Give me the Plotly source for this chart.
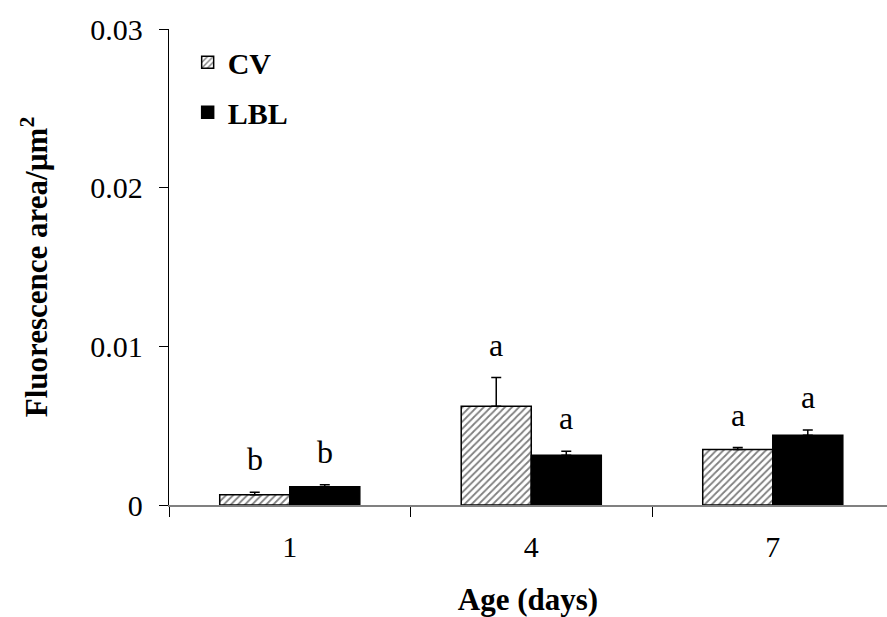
import plotly.graph_objects as go

# Fluorescence area per µm² by age, two groups (mean + SE)
days = ["1", "4", "7"]
cv_mean = [0.00065, 0.00623, 0.0035]
cv_se = [0.00015, 0.0018, 0.00012]
lbl_mean = [0.00115, 0.00314, 0.0044]
lbl_se = [0.00012, 0.00025, 0.00033]
cv_letters = ["b", "a", "a"]
lbl_letters = ["b", "a", "a"]

FONT = "Liberation Serif, Times New Roman, serif"

fig = go.Figure()

fig.add_trace(go.Bar(
    name="CV", x=days, y=cv_mean, legendgroup="cv",
    marker=dict(color="white", line=dict(color="black", width=1.5),
                pattern=dict(shape="/", fgcolor="black", bgcolor="white",
                             size=5, solidity=0.35)),
    error_y=dict(type="data", array=cv_se, arrayminus=[0] * len(cv_se),
                 symmetric=False, color="black", thickness=1.5, width=5),
))
fig.add_trace(go.Bar(
    name="LBL", x=days, y=lbl_mean, legendgroup="lbl",
    marker=dict(color="black", line=dict(color="black", width=1.5)),
    error_y=dict(type="data", array=lbl_se, arrayminus=[0] * len(lbl_se),
                 symmetric=False, color="black", thickness=1.5, width=5),
))

# significance letters above each bar (x given as category index)
for i, (m, s, t) in enumerate(zip(cv_mean, cv_se, cv_letters)):
    fig.add_annotation(x=i, y=m + s, text=t, showarrow=False, xshift=-35,
                       yanchor="bottom", yshift=13,
                       font=dict(family=FONT, size=32, color="black"))
for i, (m, s, t) in enumerate(zip(lbl_mean, lbl_se, lbl_letters)):
    fig.add_annotation(x=i, y=m + s, text=t, showarrow=False, xshift=35,
                       yanchor="bottom", yshift=13,
                       font=dict(family=FONT, size=32, color="black"))

fig.update_layout(
    width=887, height=617,
    margin=dict(l=169, r=0, t=29, b=112),
    paper_bgcolor="white", plot_bgcolor="white",
    barmode="group", bargap=0.42, bargroupgap=0,
    font=dict(family=FONT, size=30, color="black"),
    showlegend=True,
    legend=dict(x=0.026, y=0.985, xanchor="left", yanchor="top",
                bgcolor="rgba(0,0,0,0)", tracegroupgap=8,
                font=dict(family=FONT, size=30, color="black", weight="bold"),
                itemwidth=30),
    xaxis=dict(
        type="category", range=[-0.5, 2.473],
        showline=True, linecolor="#808080", linewidth=2,
        ticks="outside", tickson="boundaries", ticklen=10,
        tickcolor="black", tickwidth=1.2, ticklabelstandoff=14,
        showgrid=False, zeroline=False,
        tickfont=dict(family=FONT, size=30),
        title=dict(text="<b>Age (days)</b>", standoff=31,
                   font=dict(family=FONT, size=31)),
    ),
    yaxis=dict(
        range=[0, 0.03], tickvals=[0, 0.01, 0.02, 0.03],
        ticktext=["0", "0.01", "0.02", "0.03"],
        showline=True, linecolor="black", linewidth=1.3,
        ticks="outside", ticklen=9, tickcolor="black", tickwidth=1.2,
        ticklabelstandoff=10,
        showgrid=False, zeroline=False,
        tickfont=dict(family=FONT, size=30),
        title=dict(text="<b>Fluorescence area/µm<sup>2</sup></b>", standoff=33,
                   font=dict(family=FONT, size=31)),
    ),
)

fig.write_html("out.html")
